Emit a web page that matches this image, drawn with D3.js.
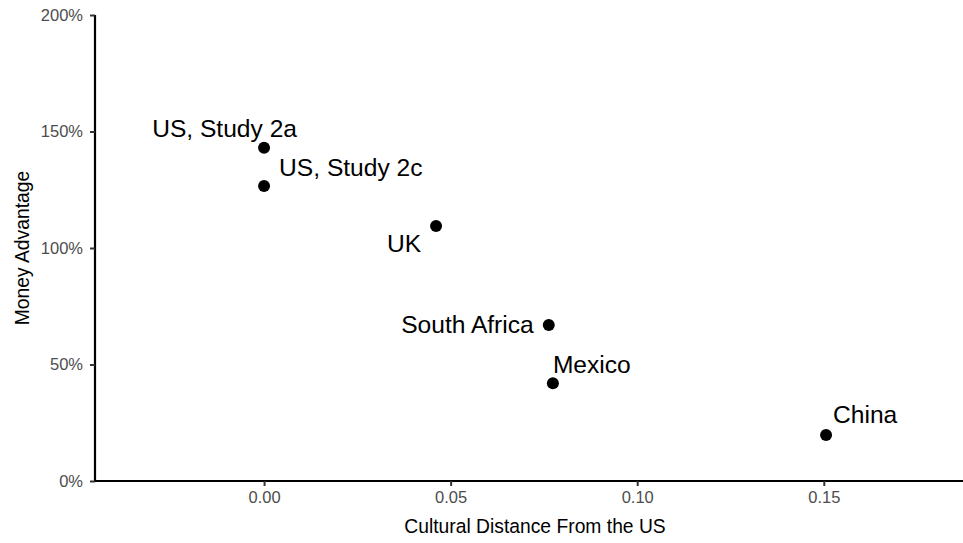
<!DOCTYPE html>
<html>
<head>
<meta charset="utf-8">
<script src="https://cdn.jsdelivr.net/npm/d3@7"></script>
<style>
  body { margin: 0; background: #fff; }
  svg { display: block; font-family: "Liberation Sans", Arial, sans-serif; }
  .tick text { fill: #4d4d4d; }
</style>
</head>
<body>
<svg id="chart" width="963" height="543"></svg>
<script>
// data
const labels = ['US, Study 2a', 'US, Study 2c', 'UK', 'South Africa', 'Mexico', 'China'];
const culturalDistance = [0, 0, 0.0461, 0.0763, 0.0774, 0.1506];
const moneyAdvantage = [1.43, 1.266, 1.094, 0.67, 0.42, 0.197];
const xTicks = [0, 0.05, 0.1, 0.15];
const yTicks = [0, 0.5, 1, 1.5, 2];

// label placement (text-anchor, dx, dy)
const labelPlace = [
  ['end', 33, -11],
  ['start', 15, -10],
  ['end', -15, 26],
  ['end', -15, 8],
  ['start', 0, -10],
  ['start', 7, -12]
];

const margin = { top: 15, right: 0, bottom: 62, left: 95 };
const width = 963 - margin.left - margin.right;
const height = 543 - margin.top - margin.bottom;

const svg = d3.select('#chart')
  .append('g')
  .attr('transform', 'translate(' + margin.left + ',' + margin.top + ')');

const x = d3.scaleLinear().domain([-0.0453, 0.1873]).range([0, width]);
const y = d3.scaleLinear().domain([0, 2]).range([height, 0]);

// x axis
const xAxis = svg.append('g')
  .attr('transform', 'translate(0,' + height + ')')
  .call(d3.axisBottom(x).tickValues(xTicks).tickFormat(d3.format('.2f')).tickSize(5).tickPadding(5));

// y axis
const yAxis = svg.append('g')
  .call(d3.axisLeft(y).tickValues(yTicks).tickFormat(d => Math.round(d * 100) + '%').tickSize(5).tickPadding(7));

[xAxis, yAxis].forEach(function (a) {
  a.select('.domain').attr('stroke', '#000').attr('stroke-width', 2.2);
  a.selectAll('.tick line').attr('stroke', '#333').attr('stroke-width', 2);
  a.selectAll('.tick text').style('font-size', '16.5px');
});
xAxis.select('.domain').attr('d', 'M0,0H' + width);
yAxis.select('.domain').attr('d', 'M0,' + height + 'V0');

// axis titles
svg.append('text')
  .attr('x', width / 2 + 6)
  .attr('y', height + 52)
  .attr('text-anchor', 'middle')
  .style('font-size', '19.3px')
  .text('Cultural Distance From the US');

svg.append('text')
  .attr('transform', 'translate(-66,' + y(1) + ') rotate(-90)')
  .attr('text-anchor', 'middle')
  .style('font-size', '19.3px')
  .text('Money Advantage');

// dots
svg.append('g')
  .selectAll('circle')
  .data(labels)
  .enter()
  .append('circle')
  .attr('cx', (d, i) => x(culturalDistance[i]))
  .attr('cy', (d, i) => y(moneyAdvantage[i]))
  .attr('r', 6)
  .style('fill', '#000');

// labels
svg.append('g')
  .selectAll('text')
  .data(labels)
  .enter()
  .append('text')
  .attr('x', (d, i) => x(culturalDistance[i]) + labelPlace[i][1])
  .attr('y', (d, i) => y(moneyAdvantage[i]) + labelPlace[i][2])
  .attr('text-anchor', (d, i) => labelPlace[i][0])
  .style('font-size', '24.6px')
  .style('fill', '#000')
  .text(d => d);
</script>
</body>
</html>
